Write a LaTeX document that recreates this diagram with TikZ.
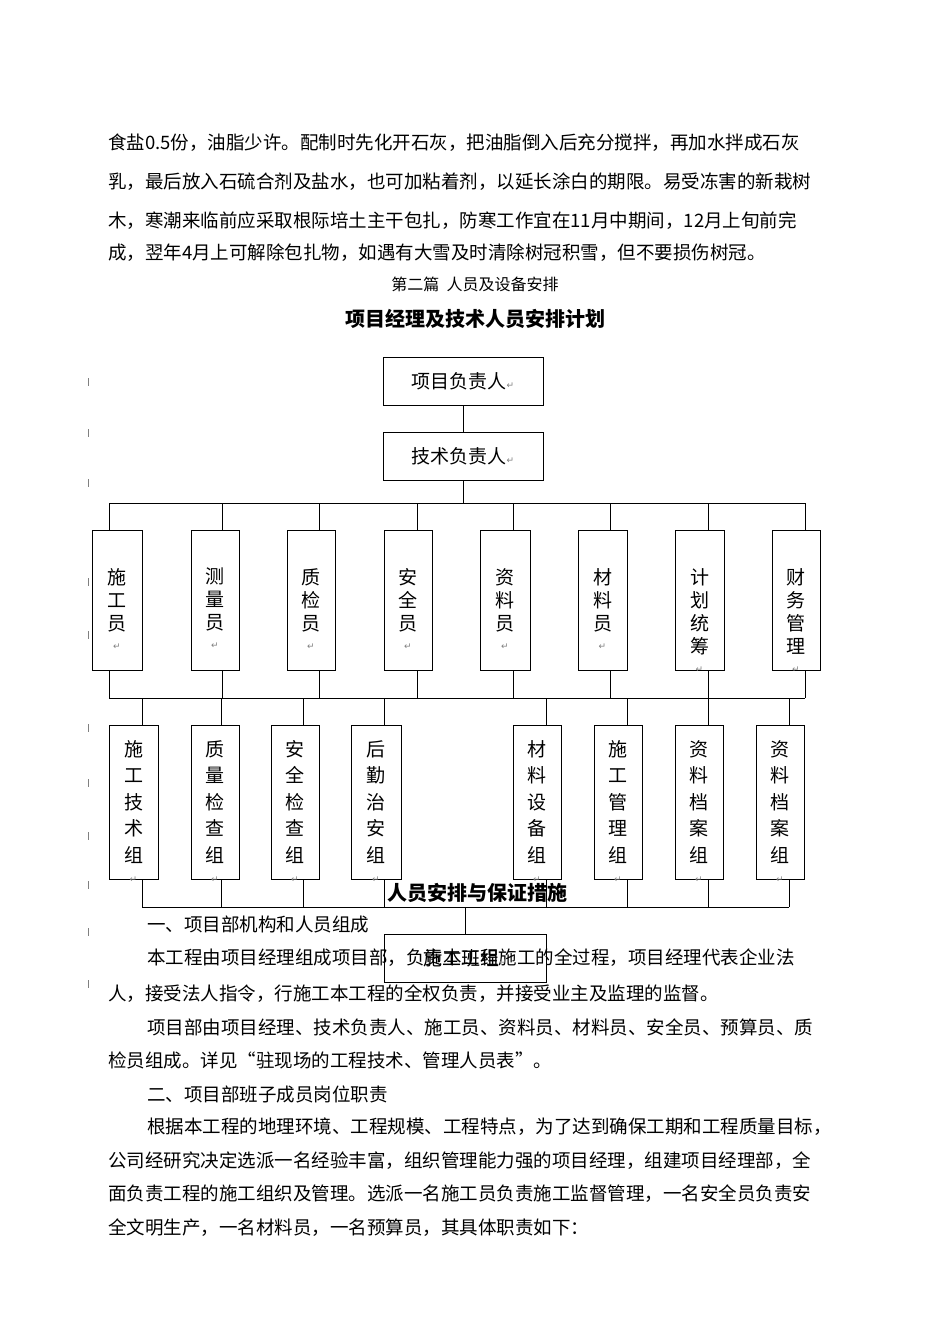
\documentclass[tikz,border=0pt]{standalone}
\usepackage{fontspec}
\setmainfont{Liberation Serif}
\newfontfamily\cjk{Noto Sans CJK SC}
\newfontfamily\sym{DejaVu Sans}
\begin{document}
\begin{tikzpicture}[x=1pt,y=-1pt,
  box/.style={draw,line width=0.8pt,inner sep=0pt},
  ln/.style={line width=0.8pt},
  body/.style={anchor=west,inner sep=0pt,font=\cjk\fontsize{18.5}{20}\selectfont},
  vt/.style={align=center,inner sep=0pt,font=\cjk\fontsize{19}{23}\selectfont},
  mk/.style={text=gray,font=\sym\fontsize{9}{10}\selectfont}]
\useasboundingbox[fill=white] (0,0) rectangle (950,1344);
% body text top
\node[body] (t1) at (108,143) {食盐0.5份，油脂少许。配制时先化开石灰，把油脂倒入后充分搅拌，再加水拌成石灰};
\node[body] (t2) at (108,182) {乳，最后放入石硫合剂及盐水，也可加粘着剂，以延长涂白的期限。易受冻害的新栽树};
\node[body] (t3) at (108,221) {木，寒潮来临前应采取根际培土主干包扎，防寒工作宜在11月中期间，12月上旬前完};
\node[body] (t4) at (108,253) {成，翌年4月上可解除包扎物，如遇有大雪及时清除树冠积雪，但不要损伤树冠。};
\node[inner sep=0pt,font=\cjk\fontsize{16}{18}\selectfont] (t5) at (475,284) {第二篇\ \ 人员及设备安排};
\node[inner sep=0pt,font=\cjk\bfseries\fontsize{20}{22}\selectfont] (t6) at (475,319) {项目经理及技术人员安排计划};
% left tick marks
\foreach \yy in {382,433,483,582,635,728,783,836,885,932,984}{\draw[line width=0.5pt,gray] (88,\yy-4) -- (88,\yy+4);}
% top boxes
\node[box,minimum width=160pt,minimum height=48pt,font=\cjk\fontsize{19}{22}\selectfont] (pm) at (463,381) {项目负责人{\color{gray}\sym\fontsize{9}{10}\selectfont ↵}};
\node[box,minimum width=160pt,minimum height=48pt,font=\cjk\fontsize{19}{22}\selectfont] (tm) at (463,456) {技术负责人{\color{gray}\sym\fontsize{9}{10}\selectfont ↵}};
\draw[ln] (pm) -- (tm);
\coordinate (b1) at (463,503);
\draw[ln] (tm) -- (b1);
\draw[ln] (109,503) -- (805,503);
\draw[ln] (109,698) -- (805,698);
% row 1
\foreach \n/\xl/\xr/\cx/\t in {
 a1/92/142/109/{施\\工\\员},
 a2/191/239/222/{测\\量\\员},
 a3/287/335/319/{质\\检\\员},
 a4/384/432/417/{安\\全\\员},
 a5/480/530/513/{资\\料\\员},
 a6/578/627/610/{材\\料\\员},
 a7/675/724/708/{计\\划\\统\\筹},
 a8/772/820/805/{财\\务\\管\\理}}{
  \draw[box] (\xl,530) rectangle (\xr,670);
  \node[vt,anchor=north] (\n) at ({(\xl+\xr)/2},568) {\t\\[-4pt]{\color{gray}\sym\fontsize{9}{10}\selectfont ↵}};
  \draw[ln] (\cx,503) -- (\cx,530);
  \draw[ln] (\cx,670) -- (\cx,698);
}
% row 2
\draw[ln] (142,907) -- (789,907);
\foreach \n/\xl/\xr/\cx/\t in {
 c1/109/158/142/{施\\工\\技\\术\\组},
 c2/191/239/221/{质\\量\\检\\查\\组},
 c3/271/319/303/{安\\全\\检\\查\\组},
 c4/351/401/384/{后\\勤\\治\\安\\组},
 c5/513/561/546/{材\\料\\设\\备\\组},
 c6/594/642/627/{施\\工\\管\\理\\组},
 c7/675/723/708/{资\\料\\档\\案\\组},
 c8/756/804/789/{资\\料\\档\\案\\组}}{
  \draw[box] (\xl,725) rectangle (\xr,879);
  \node[vt,anchor=north,font=\cjk\fontsize{19}{26.5}\selectfont] (\n) at ({(\xl+\xr)/2},740) {\t\\[-6pt]{\color{gray}\sym\fontsize{9}{10}\selectfont ↵}};
  \draw[ln] (\cx,698) -- (\cx,725);
  \draw[ln] (\cx,879) -- (\cx,907);
}
% lower text
\node[inner sep=0pt,font=\cjk\bfseries\fontsize{20}{22}\selectfont] (t7) at (477,893) {人员安排与保证措施};
\node[body] (t8) at (147,924) {一、项目部机构和人员组成};
\node[body] (t9) at (147,958) {本工程由项目经理组成项目部，负责本工程施工的全过程，项目经理代表企业法};
\node[body] (t10) at (108,994) {人，接受法人指令，行施工本工程的全权负责，并接受业主及监理的监督。};
\node[body] (t11) at (147,1027) {项目部由项目经理、技术负责人、施工员、资料员、材料员、安全员、预算员、质};
\node[body] (t12) at (108,1060) {检员组成。详见“驻现场的工程技术、管理人员表”。};
\node[body] (t13) at (147,1094) {二、项目部班子成员岗位职责};
\node[body] (t14) at (147,1127) {根据本工程的地理环境、工程规模、工程特点，为了达到确保工期和工程质量目标，};
\node[body] (t15) at (108,1161) {公司经研究决定选派一名经验丰富，组织管理能力强的项目经理，组建项目经理部，全};
\node[body] (t16) at (108,1194) {面负责工程的施工组织及管理。选派一名施工员负责施工监督管理，一名安全员负责安};
\node[body] (t17) at (108,1228) {全文明生产，一名材料员，一名预算员，其具体职责如下：};
% bottom box
\node[box,minimum width=162pt,minimum height=48pt,font=\cjk\fontsize{19}{22}\selectfont] (team) at (465,958) {施工班组{\color{gray}\sym\fontsize{9}{10}\selectfont ↵}};
\draw[ln] (465,907) -- (team);
\end{tikzpicture}
\end{document}
